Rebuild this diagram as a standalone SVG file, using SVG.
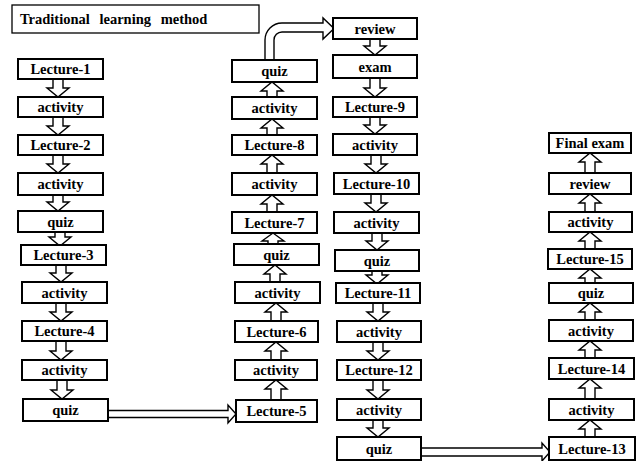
<svg xmlns="http://www.w3.org/2000/svg" width="640" height="461" viewBox="0 0 640 461">
<style>
.b{fill:#fff;stroke:#000;stroke-width:2}
.t{font-family:"Liberation Serif","Times New Roman",serif;font-weight:bold;font-size:14.5px;text-anchor:middle;fill:#000}
.a{fill:#fff;stroke:#000;stroke-width:1.4;stroke-linejoin:miter}
.h{font-family:"Liberation Serif","Times New Roman",serif;font-weight:bold;font-size:14.5px;fill:#000}
</style>
<rect width="640" height="461" fill="#fff"/>
<g id="title"><rect x="12" y="5" width="247" height="28" fill="#fff" stroke="#000" stroke-width="1.3"/><text class="h" x="20" y="24" word-spacing="6">Traditional learning method</text></g>
<g id="connectors">
<path class="a" d="M53,79V88H47L58,97L69,88H63V79"/>
<path class="a" d="M53,117V126H47L58,135L69,126H63V117"/>
<path class="a" d="M53,155V164H47L58,173L69,164H63V155"/>
<path class="a" d="M53,195V202H47L58,211L69,202H63V195"/>
<path class="a" d="M55,232V237H49L60,246L71,237H65V232"/>
<path class="a" d="M56,265V273H50L61,282L72,273H66V265"/>
<path class="a" d="M56,303V312H50L61,321L72,312H66V303"/>
<path class="a" d="M56,341V351H50L61,360L72,351H66V341"/>
<path class="a" d="M57,380V390H51L62,399L73,390H67V380"/>
<path class="a" d="M108,410.5H228V405L236,414L228,423V417.5H108"/>
<path class="a" d="M271,400V389H265L276,380L287,389H281V400"/>
<path class="a" d="M271,360V351H265L276,342L287,351H281V360"/>
<path class="a" d="M271,321V312H265L276,303L287,312H281V321"/>
<path class="a" d="M270,282V274H264L275,265L286,274H280V282"/>
<path class="a" d="M268,245V241H262L273,233L284,241H278V245"/>
<path class="a" d="M267,212V204H261L272,195L283,204H277V212"/>
<path class="a" d="M267,173V164H261L272,155L283,164H277V173"/>
<path class="a" d="M267,135V128H261L272,119L283,128H277V135"/>
<path class="a" d="M267,97V91H261L272,82L283,91H277V97"/>
<path class="a" d="M265,60V40A17,17 0 0 1 282,23H323V18L334,28.5L323,39V32H282A8,8 0 0 0 274,40V60"/>
<path class="a" d="M370,39V46H364L375,55L386,46H380V39"/>
<path class="a" d="M370,78V88H364L375,97L386,88H380V78"/>
<path class="a" d="M370,117V125H364L375,134L386,125H380V117"/>
<path class="a" d="M371,155V164H365L376,173L387,164H381V155"/>
<path class="a" d="M371,194V203H365L376,212L387,203H381V194"/>
<path class="a" d="M372,233V241H366L377,250L388,241H382V233"/>
<path class="a" d="M372,271V275H366L377,284L388,275H382V271"/>
<path class="a" d="M373,303V312H367L378,321L389,312H383V303"/>
<path class="a" d="M373,342V351H367L378,360L389,351H383V342"/>
<path class="a" d="M373,380V390H367L378,399L389,390H383V380"/>
<path class="a" d="M373,420V428H367L378,437L389,428H383V420"/>
<path class="a" d="M421,448H542V443L550,452L542,461V456H421"/>
<path class="a" d="M585,437V429H579L590,420L601,429H595V437"/>
<path class="a" d="M585,399V388H579L590,379L601,388H595V399"/>
<path class="a" d="M585,358V350H579L590,341L601,350H595V358"/>
<path class="a" d="M585,320V312H579L590,303L601,312H595V320"/>
<path class="a" d="M585,283V278H579L590,269L601,278H595V283"/>
<path class="a" d="M585,249V241H579L590,232L601,241H595V249"/>
<path class="a" d="M585,212V203H579L590,194L601,203H595V212"/>
<path class="a" d="M585,173V162H579L590,153L601,162H595V173"/>
</g>
<g id="c1-lecture1"><rect class="b" x="18" y="59" width="85" height="20"/><text class="t" x="60.5" y="74">Lecture-1</text></g>
<g id="c1-activity1"><rect class="b" x="18" y="97" width="85" height="20"/><text class="t" x="60.5" y="112">activity</text></g>
<g id="c1-lecture2"><rect class="b" x="18" y="135" width="85" height="20"/><text class="t" x="60.5" y="150">Lecture-2</text></g>
<g id="c1-activity2"><rect class="b" x="18" y="173" width="85" height="22"/><text class="t" x="60.5" y="189">activity</text></g>
<g id="c1-quiz1"><rect class="b" x="18" y="211" width="85" height="21"/><text class="t" x="60.5" y="226.5">quiz</text></g>
<g id="c1-lecture3"><rect class="b" x="21" y="245" width="85" height="20"/><text class="t" x="63.5" y="260">Lecture-3</text></g>
<g id="c1-activity3"><rect class="b" x="22" y="282" width="85" height="21"/><text class="t" x="64.5" y="297.5">activity</text></g>
<g id="c1-lecture4"><rect class="b" x="22" y="321" width="85" height="20"/><text class="t" x="64.5" y="336">Lecture-4</text></g>
<g id="c1-activity4"><rect class="b" x="22" y="360" width="85" height="20"/><text class="t" x="64.5" y="375">activity</text></g>
<g id="c1-quiz2"><rect class="b" x="23" y="399" width="85" height="22"/><text class="t" x="65.5" y="415">quiz</text></g>
<g id="c2-lecture5"><rect class="b" x="236" y="400" width="81" height="22"/><text class="t" x="276.5" y="416">Lecture-5</text></g>
<g id="c2-activity1"><rect class="b" x="235" y="360" width="82" height="20"/><text class="t" x="276" y="375">activity</text></g>
<g id="c2-lecture6"><rect class="b" x="235" y="321" width="83" height="21"/><text class="t" x="276.5" y="336.5">Lecture-6</text></g>
<g id="c2-activity2"><rect class="b" x="235" y="282" width="85" height="21"/><text class="t" x="277.5" y="297.5">activity</text></g>
<g id="c2-quiz1"><rect class="b" x="234" y="244" width="85" height="21"/><text class="t" x="276.5" y="259.5">quiz</text></g>
<g id="c2-lecture7"><rect class="b" x="232" y="212" width="85" height="21"/><text class="t" x="274.5" y="227.5">Lecture-7</text></g>
<g id="c2-activity3"><rect class="b" x="232" y="173" width="85" height="22"/><text class="t" x="274.5" y="189">activity</text></g>
<g id="c2-lecture8"><rect class="b" x="232" y="135" width="85" height="20"/><text class="t" x="274.5" y="150">Lecture-8</text></g>
<g id="c2-activity4"><rect class="b" x="232" y="97" width="85" height="22"/><text class="t" x="274.5" y="113">activity</text></g>
<g id="c2-quiz2"><rect class="b" x="232" y="60" width="85" height="22"/><text class="t" x="274.5" y="76">quiz</text></g>
<g id="c3-review"><rect class="b" x="333" y="18" width="84" height="21"/><text class="t" x="375" y="33.5">review</text></g>
<g id="c3-exam"><rect class="b" x="333" y="55" width="84" height="23"/><text class="t" x="375" y="71.5">exam</text></g>
<g id="c3-lecture9"><rect class="b" x="333" y="97" width="84" height="20"/><text class="t" x="375" y="112">Lecture-9</text></g>
<g id="c3-activity1"><rect class="b" x="333" y="134" width="84" height="21"/><text class="t" x="375" y="149.5">activity</text></g>
<g id="c3-lecture10"><rect class="b" x="334" y="173" width="85" height="21"/><text class="t" x="376.5" y="188.5">Lecture-10</text></g>
<g id="c3-activity2"><rect class="b" x="334" y="212" width="85" height="21"/><text class="t" x="376.5" y="227.5">activity</text></g>
<g id="c3-quiz1"><rect class="b" x="335" y="250" width="84" height="21"/><text class="t" x="377" y="265.5">quiz</text></g>
<g id="c3-lecture11"><rect class="b" x="336" y="283" width="84" height="20"/><text class="t" x="378" y="298">Lecture-11</text></g>
<g id="c3-activity3"><rect class="b" x="337" y="321" width="84" height="21"/><text class="t" x="379" y="336.5">activity</text></g>
<g id="c3-lecture12"><rect class="b" x="337" y="360" width="84" height="20"/><text class="t" x="379" y="375">Lecture-12</text></g>
<g id="c3-activity4"><rect class="b" x="337" y="399" width="84" height="21"/><text class="t" x="379" y="414.5">activity</text></g>
<g id="c3-quiz2"><rect class="b" x="337" y="437" width="84" height="23"/><text class="t" x="379" y="453.5">quiz</text></g>
<g id="c4-lecture13"><rect class="b" x="549" y="437" width="86" height="23"/><text class="t" x="592" y="453.5">Lecture-13</text></g>
<g id="c4-activity1"><rect class="b" x="549" y="399" width="85" height="21"/><text class="t" x="591.5" y="414.5">activity</text></g>
<g id="c4-lecture14"><rect class="b" x="549" y="358" width="85" height="21"/><text class="t" x="591.5" y="373.5">Lecture-14</text></g>
<g id="c4-activity2"><rect class="b" x="549" y="320" width="84" height="21"/><text class="t" x="591" y="335.5">activity</text></g>
<g id="c4-quiz"><rect class="b" x="549" y="283" width="84" height="20"/><text class="t" x="591" y="298">quiz</text></g>
<g id="c4-lecture15"><rect class="b" x="548" y="249" width="84" height="20"/><text class="t" x="590" y="264">Lecture-15</text></g>
<g id="c4-activity3"><rect class="b" x="549" y="212" width="83" height="20"/><text class="t" x="590.5" y="227">activity</text></g>
<g id="c4-review"><rect class="b" x="549" y="173" width="82" height="21"/><text class="t" x="590" y="188.5">review</text></g>
<g id="c4-final"><rect class="b" x="549" y="133" width="82" height="20"/><text class="t" x="590" y="148">Final exam</text></g>
</svg>
